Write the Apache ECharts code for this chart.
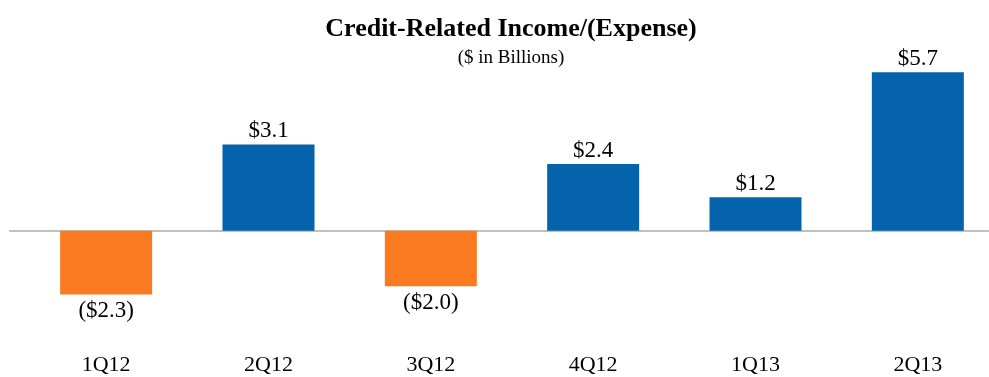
<!DOCTYPE html>
<html>
<head>
<meta charset="utf-8">
<script src="https://cdn.jsdelivr.net/npm/echarts@6/dist/echarts.min.js"></script>
<style>
  html, body { margin: 0; padding: 0; background: #ffffff; }
  #chart { width: 989px; height: 377px; }
</style>
</head>
<body>
<div id="chart"></div>
<script>
// Quarterly credit-related income / (expense), $ billions
const quarters = ['1Q12', '2Q12', '3Q12', '4Q12', '1Q13', '2Q13'];
const creditValues = [-2.3, 3.1, -2.0, 2.4, 1.2, 5.7];

const BLUE = '#0563ac';
const ORANGE = '#f97a20';
const SERIF = '"Liberation Serif", "Times New Roman", serif';

function money(v) {
  const s = '$' + Math.abs(v).toFixed(1);
  return v < 0 ? '(' + s + ')' : s;
}

const barData = creditValues.map(v => ({
  value: v,
  itemStyle: { color: v < 0 ? ORANGE : BLUE },
  label: { position: v < 0 ? 'bottom' : 'top', distance: v < 0 ? 5 : 2 }
}));

const Y_MIN = -3, Y_MAX = 6;

const chart = echarts.init(document.getElementById('chart'), null, { renderer: 'canvas' });
chart.setOption({
  animation: false,
  backgroundColor: '#ffffff',
  title: [
    {
      text: 'Credit-Related Income/(Expense)',
      left: 506, top: 11, textAlign: 'center',
      textStyle: { fontFamily: SERIF, fontWeight: 'bold', fontSize: 26, color: '#000000' }
    },
    {
      text: '($ in Billions)',
      left: 506, top: 44, textAlign: 'center',
      textStyle: { fontFamily: SERIF, fontWeight: 'normal', fontSize: 19, color: '#000000' }
    }
  ],
  grid: [
    { left: 25, width: 974, top: 64, bottom: 63, containLabel: false, outerBoundsMode: 'none' },
    { left: 10, right: 0, top: 64, bottom: 63, containLabel: false, outerBoundsMode: 'none' }
  ],
  xAxis: [
    {
      type: 'category', gridIndex: 0, data: quarters,
      axisLine: { show: false, onZero: false },
      axisTick: { show: false },
      axisLabel: { margin: 40, fontFamily: SERIF, fontSize: 22, color: '#000000' }
    },
    {
      // baseline at zero
      type: 'category', gridIndex: 1, data: quarters,
      axisLine: { show: true, onZero: true, lineStyle: { color: '#c0c0c0', width: 2 } },
      axisTick: { show: false },
      axisLabel: { show: false }
    }
  ],
  yAxis: [
    { type: 'value', gridIndex: 0, min: Y_MIN, max: Y_MAX, show: false, splitLine: { show: false } },
    { type: 'value', gridIndex: 1, min: Y_MIN, max: Y_MAX, show: false, splitLine: { show: false } }
  ],
  series: [
    {
      type: 'bar', xAxisIndex: 0, yAxisIndex: 0,
      data: barData,
      barWidth: 92,
      z: 3,
      label: {
        show: true,
        fontFamily: SERIF, fontSize: 23, color: '#000000',
        formatter: p => money(p.value)
      }
    }
  ]
});
</script>
</body>
</html>
